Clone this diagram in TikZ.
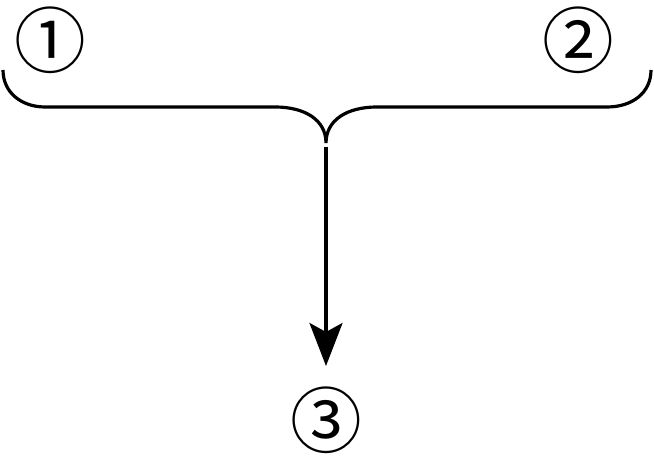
\documentclass[tikz,border=0pt]{standalone}
\usepackage{fontspec}
\newfontfamily\numfont{Noto Sans CJK JP}
\usetikzlibrary{positioning,arrows.meta}

\tikzset{
  num/.style={font=\numfont\fontsize{72}{72}\selectfont, inner sep=0pt},
  bracket/.style={line width=3.2bp},
  arrow/.style={line width=3.2bp, -{Stealth[length=43bp,width=33bp,inset=9bp]}}
}

\begin{document}
\begin{tikzpicture}[x=1bp,y=1bp]
  \useasboundingbox (0,0) rectangle (654,465);

  \node[num] (one) at (50,425) {①};
  \node[num] (two) at (578,425) {②};
  \node[num] (three) at (326,45) {③};

  \coordinate (tip) at (326,322);
  \coordinate (start) at (326,318);
  \coordinate (head) at (326,99);

  % brace under the two
  \draw[bracket] (3,395) .. controls (3,372) and (22,358) .. (45,358)
    -- (275,358) .. controls (305,358) and (326,345) .. (tip)
    .. controls (326,345) and (347,358) .. (377,358)
    -- (607,358) .. controls (632,358) and (651,372) .. (651,395);

  \draw[arrow] (start) -- (head);
\end{tikzpicture}
\end{document}
